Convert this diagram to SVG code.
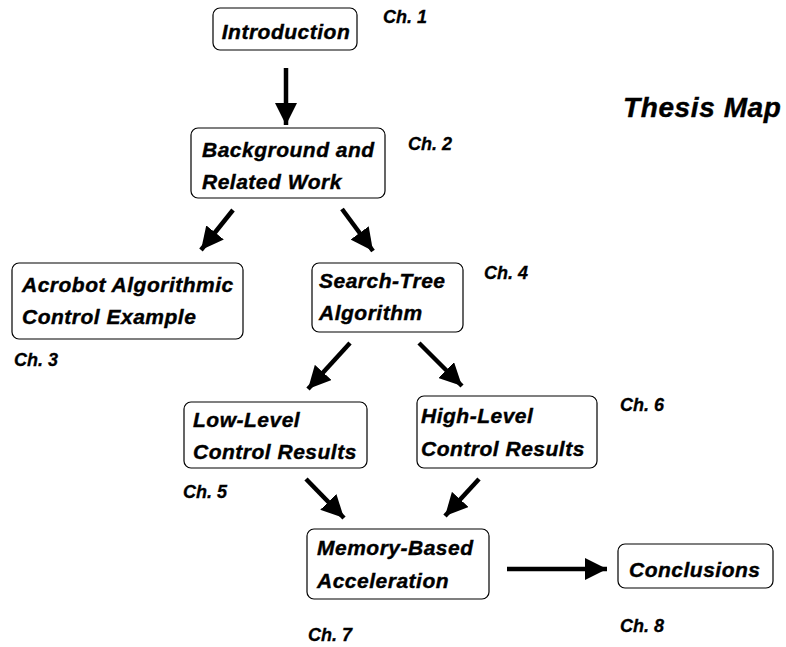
<svg xmlns="http://www.w3.org/2000/svg" width="786" height="647" viewBox="0 0 786 647">
<style>
.box{fill:#fff;stroke:#000;stroke-width:1.2}
.t{font-family:"Liberation Sans",Arial,Helvetica,sans-serif;font-weight:700;font-style:italic;font-size:21px;letter-spacing:0.5px;fill:#000;stroke:#000;stroke-width:0.4}
.ch{font-family:"Liberation Sans",Arial,Helvetica,sans-serif;font-weight:700;font-style:italic;font-size:18px;fill:#000;stroke:#000;stroke-width:0.3}
.title{font-family:"Liberation Sans",Arial,Helvetica,sans-serif;font-weight:700;font-style:italic;font-size:28px;letter-spacing:0.6px;fill:#000;stroke:#000;stroke-width:0.4}
.ln{stroke:#000;stroke-width:4.5;fill:none}
</style>
<defs>
<marker id="ah" viewBox="0 0 10 10" refX="10" refY="5" markerWidth="5" markerHeight="5" markerUnits="strokeWidth" orient="auto">
<path d="M0,0 L10,5 L0,10 Z" fill="#000"/>
</marker>
</defs>
<rect width="786" height="647" fill="#fff"/>
<text class="title" x="623" y="117">Thesis Map</text>
<g id="connectors">
<line class="ln" x1="286" y1="68" x2="286" y2="125" marker-end="url(#ah)"/>
<line class="ln" x1="233" y1="210" x2="201" y2="250" marker-end="url(#ah)"/>
<line class="ln" x1="342" y1="209" x2="373" y2="251" marker-end="url(#ah)"/>
<line class="ln" x1="350" y1="343" x2="308" y2="389" marker-end="url(#ah)"/>
<line class="ln" x1="419" y1="343" x2="462" y2="386" marker-end="url(#ah)"/>
<line class="ln" x1="306" y1="479" x2="344" y2="518" marker-end="url(#ah)"/>
<line class="ln" x1="479" y1="479" x2="445" y2="516" marker-end="url(#ah)"/>
<line class="ln" x1="507" y1="569" x2="607" y2="569" marker-end="url(#ah)"/>
</g>
<g id="n1">
<rect class="box" x="213" y="8" width="144" height="42" rx="7"/>
<text class="t" x="286" y="39" text-anchor="middle">Introduction</text>
<text class="ch" x="383" y="23">Ch. 1</text>
</g>
<g id="n2">
<rect class="box" x="191" y="128" width="194" height="70" rx="7"/>
<text class="t" x="202" y="157">Background and</text>
<text class="t" x="202" y="189">Related Work</text>
<text class="ch" x="408" y="150">Ch. 2</text>
</g>
<g id="n3">
<rect class="box" x="12" y="263" width="231" height="76" rx="7"/>
<text class="t" x="22" y="292">Acrobot Algorithmic</text>
<text class="t" x="22" y="324">Control Example</text>
<text class="ch" x="14" y="366">Ch. 3</text>
</g>
<g id="n4">
<rect class="box" x="312" y="263" width="151" height="69" rx="7"/>
<text class="t" x="319" y="288">Search-Tree</text>
<text class="t" x="319" y="320">Algorithm</text>
<text class="ch" x="484" y="279">Ch. 4</text>
</g>
<g id="n5">
<rect class="box" x="184" y="402" width="183" height="66" rx="7"/>
<text class="t" x="193" y="427">Low-Level</text>
<text class="t" x="193" y="459">Control Results</text>
<text class="ch" x="183" y="498">Ch. 5</text>
</g>
<g id="n6">
<rect class="box" x="417" y="396" width="180" height="72" rx="7"/>
<text class="t" x="421" y="423">High-Level</text>
<text class="t" x="421" y="456">Control Results</text>
<text class="ch" x="620" y="411">Ch. 6</text>
</g>
<g id="n7">
<rect class="box" x="307" y="529" width="182" height="70" rx="7"/>
<text class="t" x="317" y="555">Memory-Based</text>
<text class="t" x="317" y="588">Acceleration</text>
<text class="ch" x="308" y="641">Ch. 7</text>
</g>
<g id="n8">
<rect class="box" x="618" y="544" width="155" height="44" rx="7"/>
<text class="t" x="629" y="577">Conclusions</text>
<text class="ch" x="620" y="632">Ch. 8</text>
</g>
</svg>
